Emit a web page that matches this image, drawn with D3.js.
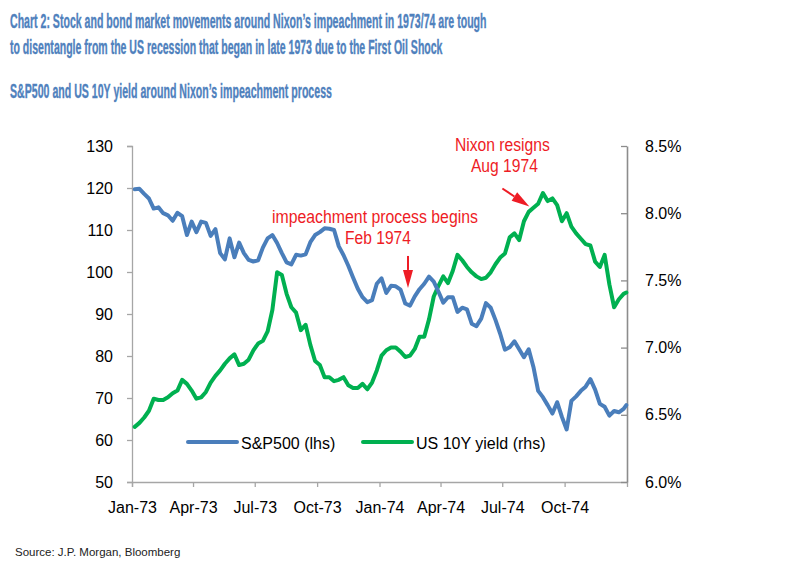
<!DOCTYPE html>
<html><head><meta charset="utf-8">
<script src="https://cdn.jsdelivr.net/npm/d3@7"></script>
<style>
html,body{margin:0;padding:0;background:#fff;}
svg{display:block;}
</style></head>
<body>
<svg id="c" width="793" height="567"></svg>
<script>
// ---------- data ----------
const titleLines = [
  "Chart 2: Stock and bond market movements around Nixon\u2019s impeachment in 1973/74 are tough",
  "to disentangle from the US recession that began in late 1973 due to the First Oil Shock"
];
const subtitle = "S&P500 and US 10Y yield around Nixon\u2019s impeachment process";
const source = "Source: J.P. Morgan, Bloomberg";
const seriesNames = ["S&P500 (lhs)", "US 10Y yield (rhs)"];
const xTickLabels = ["Jan-73","Apr-73","Jul-73","Oct-73","Jan-74","Apr-74","Jul-74","Oct-74"];
const leftTicks = [50,60,70,80,90,100,110,120,130];
const rightTicks = [6.0,6.5,7.0,7.5,8.0,8.5];

// weekly observations (Fridays, Jan 5 1973 .. Dec 27 1974) plus Dec 31 1974
const spx = [
 119.7,119.8,118.6,117.5,115.1,115.4,114.0,113.5,112.2,114.1,
 113.3,108.8,112.0,109.5,112.0,111.7,108.6,110.2,104.5,103.0,
 108.0,103.5,107.0,104.5,102.9,102.5,102.8,105.8,108.0,108.8,
 106.9,104.5,102.3,101.8,104.1,103.9,104.2,107.1,108.8,109.5,
 110.4,110.3,110.0,106.1,104.0,101.5,98.7,96.0,94.0,92.8,
 93.3,97.2,98.5,95.0,96.7,96.6,95.8,92.5,92.0,94.2,
 95.9,97.2,98.9,97.7,95.3,92.7,94.0,94.0,90.5,91.5,
 91.1,87.7,87.1,88.9,92.6,91.5,88.6,85.3,81.5,82.1,
 83.5,81.6,79.7,81.6,77.4,71.7,70.2,68.3,66.3,69.0,
 65.5,62.5,69.3,70.4,71.7,72.7,74.5,72.0,68.6,67.9,
 65.8,66.9,66.6,67.4,68.3
];
const ust10 = [
 6.41,6.44,6.48,6.53,6.62,6.61,6.61,6.63,6.66,6.68,
 6.76,6.73,6.68,6.62,6.63,6.67,6.74,6.79,6.83,6.88,
 6.92,6.95,6.87,6.88,6.91,6.98,7.03,7.05,7.12,7.28,
 7.56,7.54,7.40,7.30,7.26,7.13,7.17,7.02,6.90,6.87,
 6.78,6.78,6.75,6.76,6.78,6.72,6.70,6.70,6.73,6.69,
 6.74,6.83,6.94,6.98,7.00,7.00,6.97,6.93,6.94,6.99,
 7.08,7.08,7.21,7.38,7.46,7.53,7.48,7.57,7.69,7.65,
 7.60,7.56,7.53,7.51,7.52,7.56,7.62,7.67,7.70,7.82,
 7.85,7.80,7.94,8.01,8.04,8.07,8.15,8.09,8.11,8.06,
 7.94,8.00,7.90,7.85,7.81,7.77,7.76,7.64,7.60,7.69,
 7.47,7.30,7.36,7.40,7.41
];
const annotations = [
  {lines:["impeachment process begins","Feb 1974"], date:"1974-02-12", axis:"L", value:96.2},
  {lines:["Nixon resigns","Aug 1974"], date:"1974-08-10", axis:"R", value:8.05}
];

// ---------- build ----------
const parse = d3.timeParse("%Y-%m-%d");
const dates = d3.timeFriday.range(new Date(1973,0,5), new Date(1974,11,28));
dates.push(new Date(1974,11,31));

const svg = d3.select("#c");
const blue = "#4a7ebb", green = "#00b050", red = "#ee1c25", titleBlue = "#4f81bd";
const narrow = "'Liberation Sans Narrow','Arial Narrow','Liberation Sans',Arial,sans-serif";
const sans = "'Liberation Sans',Arial,sans-serif";

const x = d3.scaleTime().domain([new Date(1973,0,1), new Date(1975,0,1)]).range([132,627]);
const yL = d3.scaleLinear().domain([50,130]).range([482,146]);
const yR = d3.scaleLinear().domain([6.0,8.5]).range([482,146]);

// text fitted to a target width by horizontal scaling (anchor: "start" or "middle")
function fitText(t, px, py, width, anchor, style){
  const el = svg.append("text").text(t).attr("x",0).attr("y",0).attr("text-anchor",anchor);
  style(el);
  const w = el.node().getComputedTextLength() || width;
  const s = Math.min(1.15, width / w);
  el.attr("transform",`translate(${px},${py}) scale(${s},1)`);
  return el;
}
const titleStyle = el => el.attr("font-family",narrow).attr("font-weight","bold").attr("font-size",19.5)
    .attr("fill",titleBlue).attr("stroke",titleBlue).attr("stroke-width",0.35);
const redStyle = el => el.attr("font-family",narrow).attr("font-size",18.5).attr("fill",red);

// titles
fitText(titleLines[0], 10, 28, 477, "start", titleStyle);
fitText(titleLines[1], 10, 54, 433, "start", titleStyle);
fitText(subtitle, 10, 98, 322, "start", titleStyle);
svg.append("text").attr("x",15).attr("y",556).text(source)
  .attr("font-family",sans).attr("font-size",11.5).attr("fill","#222");

// axes
const xTickDates = xTickLabels.map(s=>d3.timeParse("%b-%y")(s));
const gx = svg.append("g").attr("transform","translate(0,482)")
  .call(d3.axisBottom(x).tickValues(xTickDates).tickFormat(d3.timeFormat("%b-%y")).tickSizeOuter(0).tickSize(5));
gx.selectAll("text").attr("y",31).attr("dy",0);

const gl = svg.append("g").attr("transform","translate(132,0)")
  .call(d3.axisLeft(yL).tickValues(leftTicks).tickSizeOuter(0).tickSize(5).tickPadding(14));
gl.selectAll("text").attr("dy","0.35em");

const gr = svg.append("g").attr("transform","translate(627,0)")
  .call(d3.axisRight(yR).tickValues(rightTicks).tickFormat(d=>d.toFixed(1)+"%").tickSizeOuter(0).tickSizeInner(-6).tickPadding(18));

[gx,gl,gr].forEach(g=>{
  g.selectAll("text").attr("font-family",sans).attr("font-size",16).attr("fill","#000");
  g.select(".domain").attr("stroke","#a6a6a6").attr("stroke-width",1.3);
  g.selectAll(".tick line").attr("stroke","#a6a6a6").attr("stroke-width",1.3);
});
gr.select(".domain").attr("stroke","#8c8c8c").attr("stroke-width",1.6);
gr.selectAll(".tick line").attr("stroke","#8c8c8c");

// lines
const lineL = d3.line().x((d,i)=>x(dates[i])).y(d=>yL(d));
const lineR = d3.line().x((d,i)=>x(dates[i])).y(d=>yR(d));
svg.append("path").datum(ust10).attr("d",lineR).attr("fill","none")
  .attr("stroke",green).attr("stroke-width",4).attr("stroke-linejoin","round").attr("stroke-linecap","round");
svg.append("path").datum(spx).attr("d",lineL).attr("fill","none")
  .attr("stroke",blue).attr("stroke-width",4).attr("stroke-linejoin","round").attr("stroke-linecap","round");

// legend
const leg = [{c:blue,x:188,t:seriesNames[0]},{c:green,x:363,t:seriesNames[1]}];
leg.forEach(l=>{
  svg.append("line").attr("x1",l.x).attr("x2",l.x+49).attr("y1",442).attr("y2",442)
    .attr("stroke",l.c).attr("stroke-width",4).attr("stroke-linecap","round");
  svg.append("text").attr("x",l.x+53).attr("y",449).text(l.t)
    .attr("font-family",sans).attr("font-size",16).attr("fill","#000");
});

// annotations
function arrow(x1,y1,x2,y2){
  const a = Math.atan2(y2-y1,x2-x1), L=18, W=5;
  const bx = x2 - L*Math.cos(a), by = y2 - L*Math.sin(a);
  svg.append("line").attr("x1",x1).attr("y1",y1).attr("x2",bx).attr("y2",by)
    .attr("stroke",red).attr("stroke-width",2);
  const p = [[x2,y2],[bx+W*Math.sin(a),by-W*Math.cos(a)],[bx-W*Math.sin(a),by+W*Math.cos(a)]];
  svg.append("path").attr("d","M"+p.map(q=>q.join(",")).join("L")+"Z").attr("fill",red);
}
// Feb 1974
{
  const a = annotations[0];
  const ax = x(parse(a.date)), ay = yL(a.value);
  arrow(ax, ay-32, ax, ay);
  fitText(a.lines[0], ax-33, ay-65, 206, "middle", redStyle);
  fitText(a.lines[1], ax-30, ay-44, 66, "middle", redStyle);
}
// Aug 1974
{
  const a = annotations[1];
  const ax = x(parse(a.date)), ay = yR(a.value);
  arrow(ax-27, ay-18, ax, ay);
  fitText(a.lines[0], ax-27, ay-55, 95, "middle", redStyle);
  fitText(a.lines[1], ax-25, ay-34, 67, "middle", redStyle);
}
</script>
</body></html>
